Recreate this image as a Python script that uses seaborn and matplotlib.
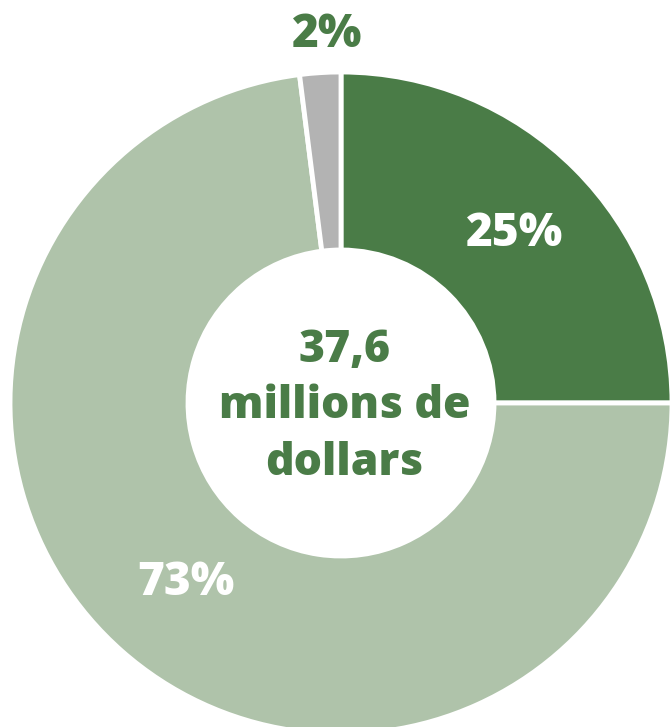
import numpy as np
import matplotlib
matplotlib.use("Agg")
import matplotlib.pyplot as plt
import seaborn as sns

# Budget breakdown
categories = ["Part A", "Part B", "Part C"]
shares = [25, 73, 2]
pct_labels = ["25%", "73%", "2%"]
center_lines = ["37,6", "millions de", "dollars"]

colors = ["#4a7c47", "#afc3aa", "#b3b3b3"]
label_colors = ["white", "white", "#4a7c47"]

sns.set_theme(style="white")
plt.rcParams["font.family"] = ["Open Sans", "DejaVu Sans"]

W, H, DPI = 671, 727, 100
fig = plt.figure(figsize=(W / DPI, H / DPI), dpi=DPI)
ax = fig.add_axes([0, 0, 1, 1])

# pixel geometry of the ring
cx, cy, R = 341, 403, 331
inner = 153 / R
wedges, _ = ax.pie(
    shares,
    colors=colors,
    startangle=90,
    counterclock=False,
    radius=1.0,
    wedgeprops=dict(width=1.0 - inner, edgecolor="white", linewidth=3.5),
)
ax.set_xlim(-cx / R, (W - cx) / R)
ax.set_ylim(-(H - cy) / R, cy / R)
ax.set_aspect("equal")
ax.axis("off")

# percentage labels placed along each wedge's mid-angle
radii = [0.74, 0.71, 1.125]
for w, lab, col, r in zip(wedges, pct_labels, label_colors, radii):
    mid = np.deg2rad((w.theta1 + w.theta2) / 2)
    x, y = r * np.cos(mid), r * np.sin(mid) - 0.012
    if lab == "2%":
        x += 0.03
    ax.text(x, y, lab, ha="center", va="center", color=col,
            fontsize=33, fontweight=800)

ax.text(0.01, -0.012, "\n".join(center_lines), ha="center", va="center",
        color="#4a7c47", fontsize=32, fontweight=800, linespacing=1.33)

fig.savefig("out.png", dpi=DPI, facecolor="white")
